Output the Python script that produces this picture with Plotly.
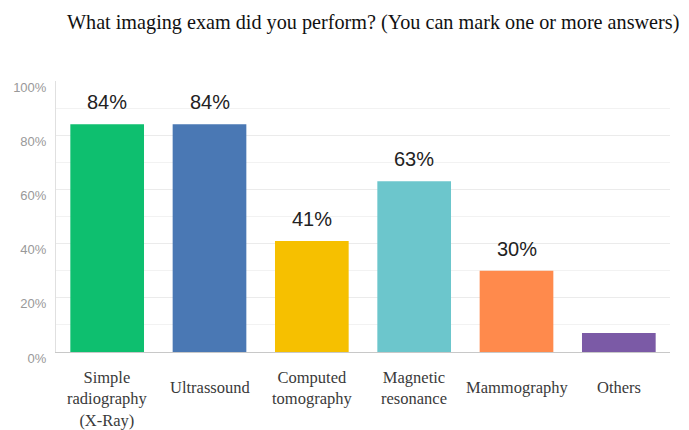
import plotly.graph_objects as go

exams = ["Simple<br>radiography<br>(X-Ray)", "Ultrassound", "Computed<br>tomography",
         "Magnetic<br>resonance", "Mammography", "Others"]
percent = [84, 84, 41, 63, 30, 7]
labels = ["84%", "84%", "41%", "63%", "30%", ""]
colors = ["#0EBF6F", "#4A78B4", "#F6C000", "#6CC6CC", "#FF8A4C", "#7B5AA6"]

fig = go.Figure()
fig.add_trace(go.Bar(x=exams, y=percent, marker_color=colors, marker_line_width=0))

for cat, val, lab in zip(exams, percent, labels):
    if lab:
        fig.add_annotation(x=cat, y=val, text=lab, showarrow=False, yanchor="bottom", yshift=9,
                           font=dict(family="Liberation Sans, Arial", size=20, color="#222222"))
    # multi-line labels hang from the top, single ones sit a bit lower
    nlines = cat.count("<br>") + 1
    fig.add_annotation(x=cat, y=0, yref="y", text=cat, showarrow=False, yanchor="top",
                       yshift=-14 if nlines > 1 else -24,
                       font=dict(family="Liberation Serif, Times New Roman", size=16.5, color="#3A3A3A"))

fig.add_annotation(x=0.517, y=1, xref="paper", yref="paper", yanchor="middle", yshift=59,
                   text="What imaging exam did you perform? (You can mark one or more answers)",
                   showarrow=False, font=dict(family="Liberation Serif, Times New Roman", size=20.2, color="#111111"))

fig.update_layout(
    width=689, height=430,
    margin=dict(l=48, r=27, t=73, b=86),
    plot_bgcolor="white", paper_bgcolor="white",
    bargap=0.28, showlegend=False,
)
fig.update_xaxes(showticklabels=False, showline=True, linecolor="#C8C8C8", linewidth=1, ticks="")
fig.update_yaxes(range=[0, 100], dtick=20, ticksuffix="%", showline=True, linecolor="#E0E0E0",
                 gridcolor="#EBEBEB", zeroline=False, ticklabelshift=6, ticklabelstandoff=6,
                 automargin=False,
                 minor=dict(dtick=10, showgrid=True, gridcolor="#F2F2F2"),
                 tickfont=dict(family="Liberation Sans, Arial", size=13, color="#999999"))

fig.write_html("out.html")
